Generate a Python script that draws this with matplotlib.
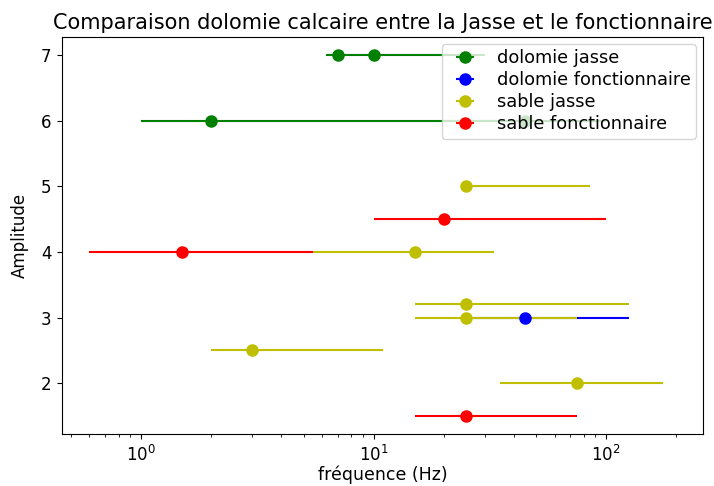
import numpy as np
import matplotlib.pyplot as plt

# frequency (Hz) of each measurement, its amplitude, and the low/high ends of its range
dolomie_jasse_f = [7, 10, 2, 45]
dolomie_jasse_a = [7, 7, 6, 6]
dolomie_jasse_lo = [6.25, 10, 1, 20]
dolomie_jasse_hi = [10, 30, 100, 100]

dolomie_fonct_f = [45]
dolomie_fonct_a = [3]
dolomie_fonct_lo = [25]
dolomie_fonct_hi = [125]

sable_jasse_f = [25, 15, 25, 25, 3, 75]
sable_jasse_a = [5, 4, 3.2, 3, 2.5, 2]
sable_jasse_lo = [25, 5.5, 15, 15, 2, 35]
sable_jasse_hi = [85, 33, 125, 75, 11, 175]

sable_fonct_f = [20, 1.5, 25]
sable_fonct_a = [4.5, 4, 1.5]
sable_fonct_lo = [10, 0.6, 15]
sable_fonct_hi = [100, 5.5, 75]


def plot_serie(ax, f, a, lo, hi, color, label):
    """Draws one series as points with horizontal frequency ranges."""
    f = np.array(f, dtype=float)
    xerr = [f - np.array(lo), np.array(hi) - f]
    ax.errorbar(f, a, xerr=xerr, fmt="o", color=color, markersize=8,
                linewidth=1.5, label=label)


def main():
    plt.rcParams["font.size"] = 12
    fig = plt.figure(figsize=(7.14, 4.86), dpi=100)
    ax = fig.add_axes([62 / 714, 1 - 434 / 486, 641 / 714, 397 / 486])

    plot_serie(ax, dolomie_jasse_f, dolomie_jasse_a, dolomie_jasse_lo,
               dolomie_jasse_hi, "g", "dolomie jasse")
    plot_serie(ax, dolomie_fonct_f, dolomie_fonct_a, dolomie_fonct_lo,
               dolomie_fonct_hi, "b", "dolomie fonctionnaire")
    plot_serie(ax, sable_jasse_f, sable_jasse_a, sable_jasse_lo,
               sable_jasse_hi, "y", "sable jasse")
    plot_serie(ax, sable_fonct_f, sable_fonct_a, sable_fonct_lo,
               sable_fonct_hi, "r", "sable fonctionnaire")

    ax.set_xscale("log")
    ax.set_xlim(0.457, 261)
    ax.tick_params(labelsize=12, pad=4)
    ax.set_xlabel("fréquence (Hz)", fontsize=12.5, labelpad=1)
    ax.set_ylabel("Amplitude", fontsize=12, labelpad=9)
    ax.set_title("Comparaison dolomie calcaire entre la Jasse et le fonctionnaire",
                 fontsize=15, pad=6)
    ax.legend(loc="upper right", fontsize=12.8, labelspacing=0.22,
              borderpad=0.3, handletextpad=0.8, borderaxespad=0.4)

    fig.savefig("out.png", dpi=100)


if __name__ == "__main__":
    main()
